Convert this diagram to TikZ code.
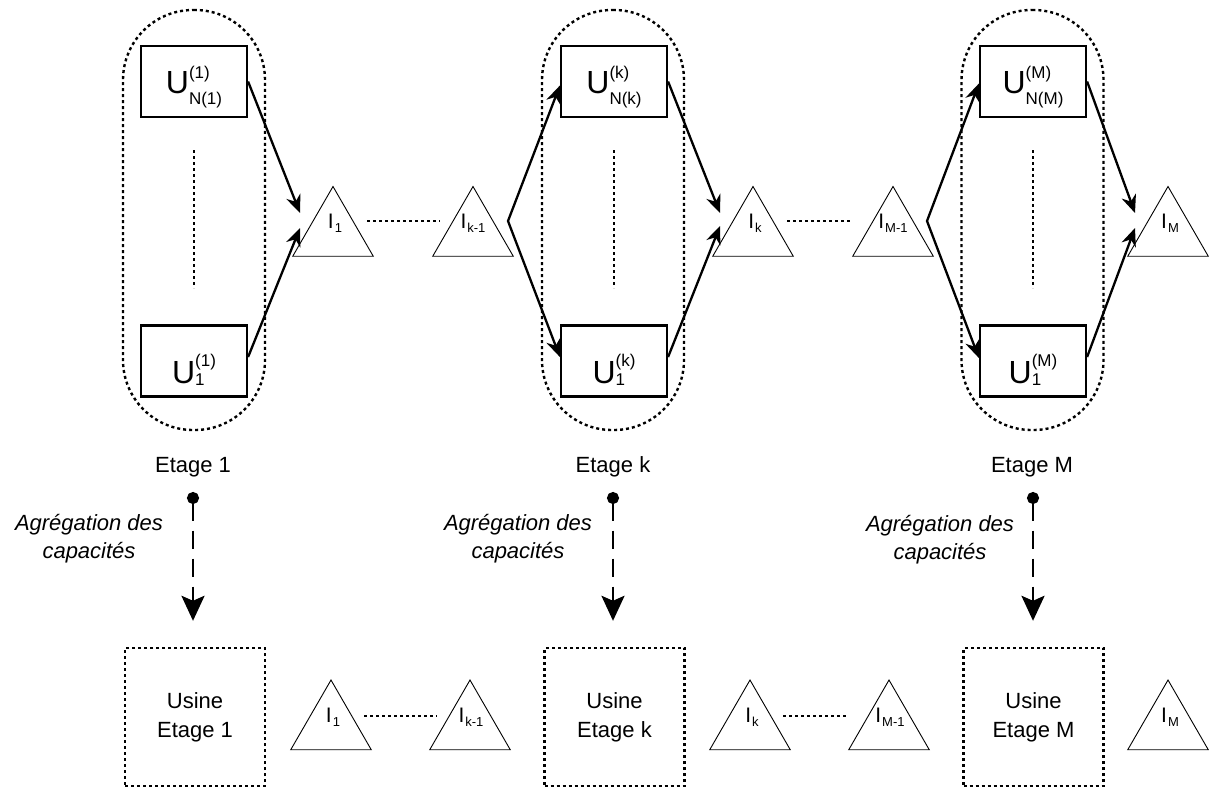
\documentclass[tikz,border=0pt]{standalone}
\usepackage{fontspec}
\setmainfont{Liberation Sans}
\usetikzlibrary{arrows.meta,shapes.geometric,calc}
\newcommand{\myscripts}[4]{%
  \setbox0\hbox{#1}\setbox2\hbox{#2}%
  \ifdim\wd0>\wd2 \rlap{\raisebox{-#4}{\box2}}\raisebox{#3}{\box0}%
  \else \rlap{\raisebox{#3}{\box0}}\raisebox{-#4}{\box2}\fi}
\newcommand{\Utop}[2]{U{\fontsize{17}{17}\selectfont\myscripts{#1}{#2}{14.5pt}{11.5pt}}}
\newcommand{\Ubot}[1]{U{\fontsize{17}{17}\selectfont\myscripts{#1}{1}{17pt}{2pt}}}
\newcommand{\Ilab}[1]{I{\fontsize{13}{13}\selectfont\kern1pt\raisebox{-4pt}{#1}}}
\begin{document}
\begin{tikzpicture}[x=1pt,y=-1pt,
  every node/.style={font=\fontsize{22}{28}\selectfont},
  ubox/.style={draw, line width=2.2pt, minimum width=106pt, minimum height=71pt, inner sep=0pt, font=\fontsize{32}{36}\selectfont},
  ubtop/.style={ubox, text height=25pt, text depth=2pt},
  ubbot/.style={ubox, text height=46pt, text depth=2pt},
  stadium/.style={draw, dash pattern=on 3pt off 3pt, line width=2.4pt, rounded corners=70pt, minimum width=142pt, minimum height=420pt},
  tri/.style={draw, regular polygon, regular polygon sides=3, minimum size=93pt, inner sep=0pt, line width=0.9pt},
  tlab/.style={anchor=base, inner sep=0pt, font=\fontsize{21}{25}\selectfont},
  dotl/.style={dash pattern=on 3pt off 3pt, line width=2.4pt},
  arr/.style={line width=2.3pt, -{Stealth[length=18pt,width=15pt]}},
  arrtwo/.style={line width=2.3pt, line join=miter, {Stealth[length=18pt,width=15pt]}-{Stealth[length=18pt,width=15pt]}},
  plant/.style={draw, dash pattern=on 3pt off 3pt, line width=2.4pt, minimum width=140pt, minimum height=138pt, align=center, font=\fontsize{22}{29}\selectfont},
  aggr/.style={line width=2.8pt, dash pattern=on 18pt off 10pt, {Circle[length=12pt]}-{Stealth[length=25pt,width=23pt,inset=5pt]}},
  agtext/.style={align=center, font=\itshape\fontsize{22}{28}\selectfont}
]
\useasboundingbox (0,0) rectangle (1209,788);

% stages (top)
\node[stadium] (s1) at (194,220) {};
\node[stadium] (sk) at (613,220) {};
\node[stadium] (sM) at (1032.5,220) {};

\node[ubtop] (a1) at (194,81.5) {\Utop{(1)}{N(1)}};
\node[ubbot] (b1) at (194,361) {\Ubot{(1)}};
\node[ubtop] (ak) at (614,81.5) {\Utop{(k)}{N(k)}};
\node[ubbot] (bk) at (614,361) {\Ubot{(k)}};
\node[ubtop] (aM) at (1033,81.5) {\Utop{(M)}{N(M)}};
\node[ubbot] (bM) at (1033,361) {\Ubot{(M)}};

\draw[dotl] (194,150) -- (194,288);
\draw[dotl] (614,150) -- (614,288);
\draw[dotl] (1033,150) -- (1033,288);

% top triangles
\node[tri] (t1) at (333,233) {};
\node[tri] (tk1) at (473,233) {};
\node[tri] (tk) at (753,233) {};
\node[tri] (tM1) at (893,233) {};
\node[tri] (tM) at (1168,233) {};
\node[tlab] (lt1) at (335,228) {\Ilab{1}};
\node[tlab] (ltk1) at (473,228) {\Ilab{k-1}};
\node[tlab] (ltk) at (755,228) {\Ilab{k}};
\node[tlab] (ltM1) at (893,228) {\Ilab{M-1}};
\node[tlab] (ltM) at (1170,228) {\Ilab{M}};

\draw[dotl] ($(t1.center)+(34,-12)$) -- ($(tk1.center)+(-33,-12)$);
\draw[dotl] ($(tk.center)+(34,-12)$) -- ($(tM1.center)+(-43,-12)$);

% arrows into triangles
\draw[arr] (a1.east) -- ($(t1.center)+(-33,-20)$);
\draw[arr] ($(b1.east)+(0,-4)$) -- ($(t1.center)+(-33,-5)$);
\draw[arr] (ak.east) -- ($(tk.center)+(-33,-20)$);
\draw[arr] ($(bk.east)+(0,-4)$) -- ($(tk.center)+(-33,-7)$);
\draw[arr] (aM.east) -- ($(tM.center)+(-33,-20)$);
\draw[arr] ($(bM.east)+(0,-4)$) -- ($(tM.center)+(-33,-5)$);

% branches from triangles to the next stage
\coordinate (vk) at ($(tk1.center)+(35,-12)$);
\coordinate (vM) at ($(tM1.center)+(34,-12)$);
\draw[arrtwo] ($(ak.west)+(0,4)$) -- (vk) -- ($(bk.west)+(0,-4)$);
\draw[arrtwo] ($(aM.west)+(0,2)$) -- (vM) -- ($(bM.west)+(0,-3)$);

% stage labels
\node[anchor=base] (e1) at (193,472) {Etage 1};
\node[anchor=base] (ek) at (613,472) {Etage k};
\node[anchor=base] (eM) at (1032,472) {Etage M};

% plants (bottom)
\node[plant] (p1) at (195,717) {Usine\\Etage 1};
\node[plant] (pk) at (614.5,717) {Usine\\Etage k};
\node[plant] (pM) at (1033.5,717) {Usine\\Etage M};

% aggregation arrows
\coordinate (d1) at (193,492);
\coordinate (dk) at (613,492);
\coordinate (dM) at (1033,492);
\draw[aggr] (d1) -- ($(d1 |- p1.north)+(0,-26)$);
\draw[aggr] (dk) -- ($(dk |- pk.north)+(0,-26)$);
\draw[aggr] (dM) -- ($(dM |- pM.north)+(0,-26)$);
\node[agtext] (g1) at (89,539) {Agrégation des\\capacités};
\node[agtext] (gk) at (518,539) {Agrégation des\\capacités};
\node[agtext] (gM) at (940,540) {Agrégation des\\capacités};

% bottom triangles
\node[tri] (q1) at (331,726.5) {};
\node[tri] (qk1) at (470,726.5) {};
\node[tri] (qk) at (750,726.5) {};
\node[tri] (qM1) at (889,726.5) {};
\node[tri] (qM) at (1168,726.5) {};
\node[tlab] (lq1) at (333,722) {\Ilab{1}};
\node[tlab] (lqk1) at (471,722) {\Ilab{k-1}};
\node[tlab] (lqk) at (752,722) {\Ilab{k}};
\node[tlab] (lqM1) at (890,722) {\Ilab{M-1}};
\node[tlab] (lqM) at (1170,722) {\Ilab{M}};
\draw[dotl] ($(q1.center)+(33,-10.5)$) -- ($(qk1.center)+(-33,-10.5)$);
\draw[dotl] ($(qk.center)+(33,-10.5)$) -- ($(qM1.center)+(-42,-10.5)$);
\end{tikzpicture}
\end{document}
